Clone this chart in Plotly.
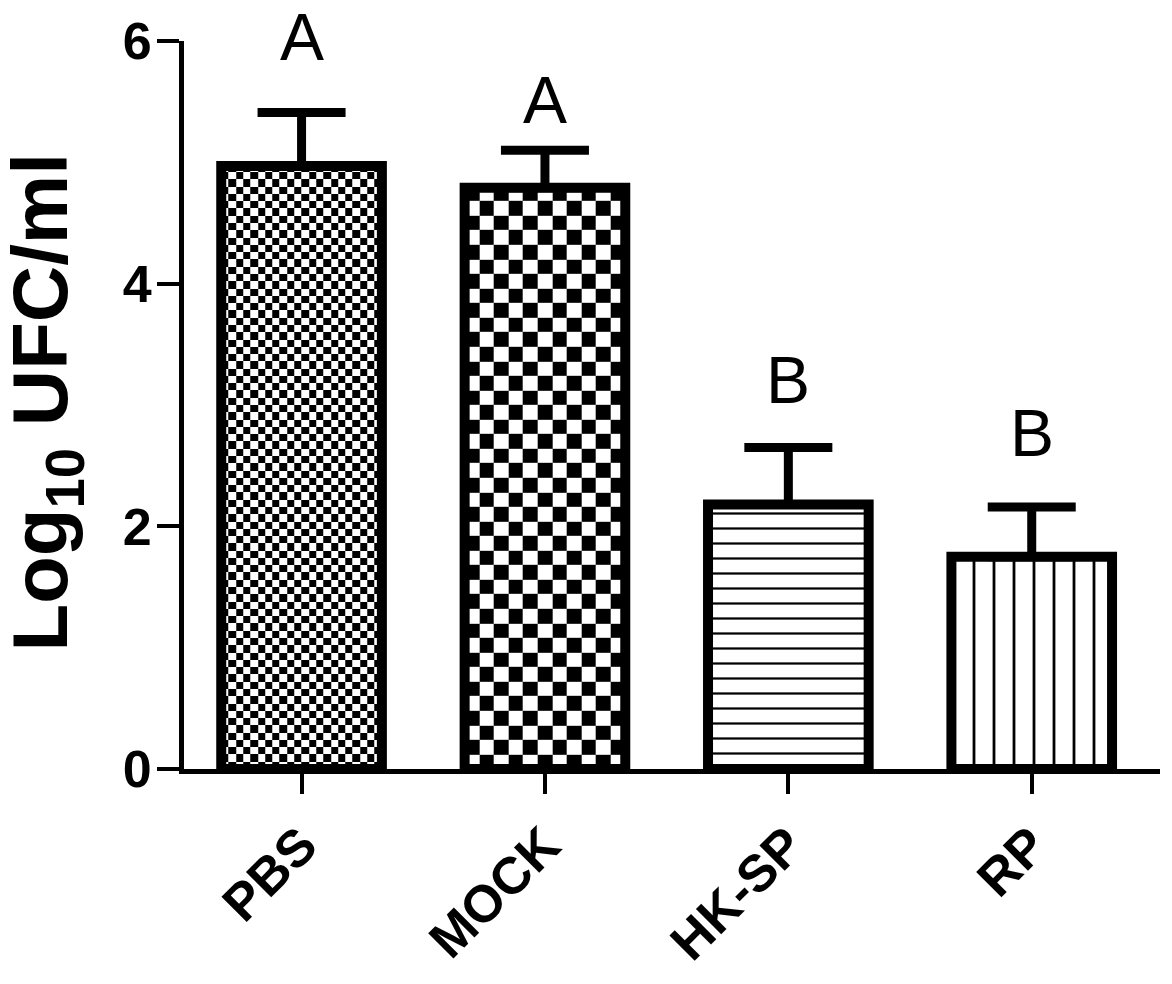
import numpy as np
import plotly.graph_objects as go

# data
groups = ["PBS", "MOCK", "HK-SP", "RP"]
means = [4.97, 4.79, 2.18, 1.75]
errors = [0.44, 0.31, 0.47, 0.41]
letters = ["A", "A", "B", "B"]
letter_y = [6.03, 5.51, 3.21, 2.77]
y_ticks = [0, 2, 4, 6]

# style
FONT = "Arial, Liberation Sans, sans-serif"
Y_MAX = 6
BAR_WIDTH = 0.66
LINE_W = 10
# checker cell size (x units, y units) for the checkered bars
checker_cells = {0: (0.030, 0.060), 1: (0.060, 0.120)}
hatch = {2: dict(shape="-", size=15, solidity=0.15), 3: dict(shape="|", size=20, solidity=0.14)}


def checker(i, value, cell_x, cell_y):
    """Checkerboard heatmap filling the bar i"""
    nx = max(1, int(round(BAR_WIDTH / cell_x)))
    ny = int(np.ceil(value / cell_y))
    xs = np.linspace(i - BAR_WIDTH / 2, i + BAR_WIDTH / 2, nx + 1)
    ys = np.minimum(np.arange(ny + 1) * cell_y, value)
    z = np.add.outer(np.arange(ny), np.arange(nx)) % 2
    return go.Heatmap(
        x=xs,
        y=ys,
        z=z,
        zmin=0,
        zmax=1,
        colorscale=[[0, "white"], [1, "black"]],
        showscale=False,
        hoverinfo="skip",
        zsmooth=False,
    )


fig = go.Figure()
xs = list(range(len(groups)))

for i, (cx, cy) in checker_cells.items():
    fig.add_trace(checker(i, means[i], cx, cy))

for i in xs:
    if i in hatch:
        marker = dict(
            color="white",
            line=dict(color="black", width=LINE_W),
            pattern=dict(fgcolor="black", bgcolor="white", fillmode="replace", **hatch[i]),
        )
    else:
        marker = dict(color="rgba(0,0,0,0)", line=dict(color="black", width=LINE_W))
    fig.add_trace(
        go.Bar(
            x=[i],
            y=[means[i]],
            width=BAR_WIDTH,
            marker=marker,
            error_y=dict(
                type="data",
                symmetric=False,
                array=[errors[i]],
                arrayminus=[0],
                color="black",
                thickness=9,
                width=44,
            ),
            name=groups[i],
        )
    )

# significance letters (paper y so the top one is not hidden above the range)
for i, (txt, ly) in enumerate(zip(letters, letter_y)):
    fig.add_annotation(
        x=i, y=ly / Y_MAX, yref="paper", text=txt, showarrow=False, yanchor="middle",
        font=dict(family=FONT, size=66, color="black"),
    )

# y title as an annotation so it can sit further left than the margin allows
fig.add_annotation(
    x=-0.142, y=0.504, xref="paper", yref="paper",
    text="<b>Log<sub>10</sub> UFC/ml</b>", textangle=-90, showarrow=False,
    xanchor="center", yanchor="middle",
    font=dict(family=FONT, size=78, color="black"),
)

# page body has an 8px margin, so the figure is a bit smaller than the window
fig.update_layout(
    width=1164,
    height=976,
    margin=dict(l=176, r=12, t=33, b=215),
    plot_bgcolor="white",
    paper_bgcolor="white",
    showlegend=False,
    font=dict(family=FONT, color="black"),
    xaxis=dict(
        range=[-0.483, 3.527],
        tickvals=xs,
        ticktext=groups,
        tickangle=-45,
        tickfont=dict(size=52, weight="bold"),
        showline=True,
        linecolor="black",
        linewidth=5,
        ticks="outside",
        ticklen=20,
        tickwidth=4,
        tickcolor="black",
        showgrid=False,
        zeroline=False,
        automargin=False,
    ),
    yaxis=dict(
        range=[0, Y_MAX],
        tickvals=y_ticks,
        tickfont=dict(size=52, weight="bold"),
        ticklabelstandoff=-5,
        showline=True,
        linecolor="black",
        linewidth=5,
        ticks="outside",
        ticklen=22,
        tickwidth=4,
        tickcolor="black",
        showgrid=False,
        zeroline=False,
        automargin=False,
    ),
)

fig.write_html("out.html")
